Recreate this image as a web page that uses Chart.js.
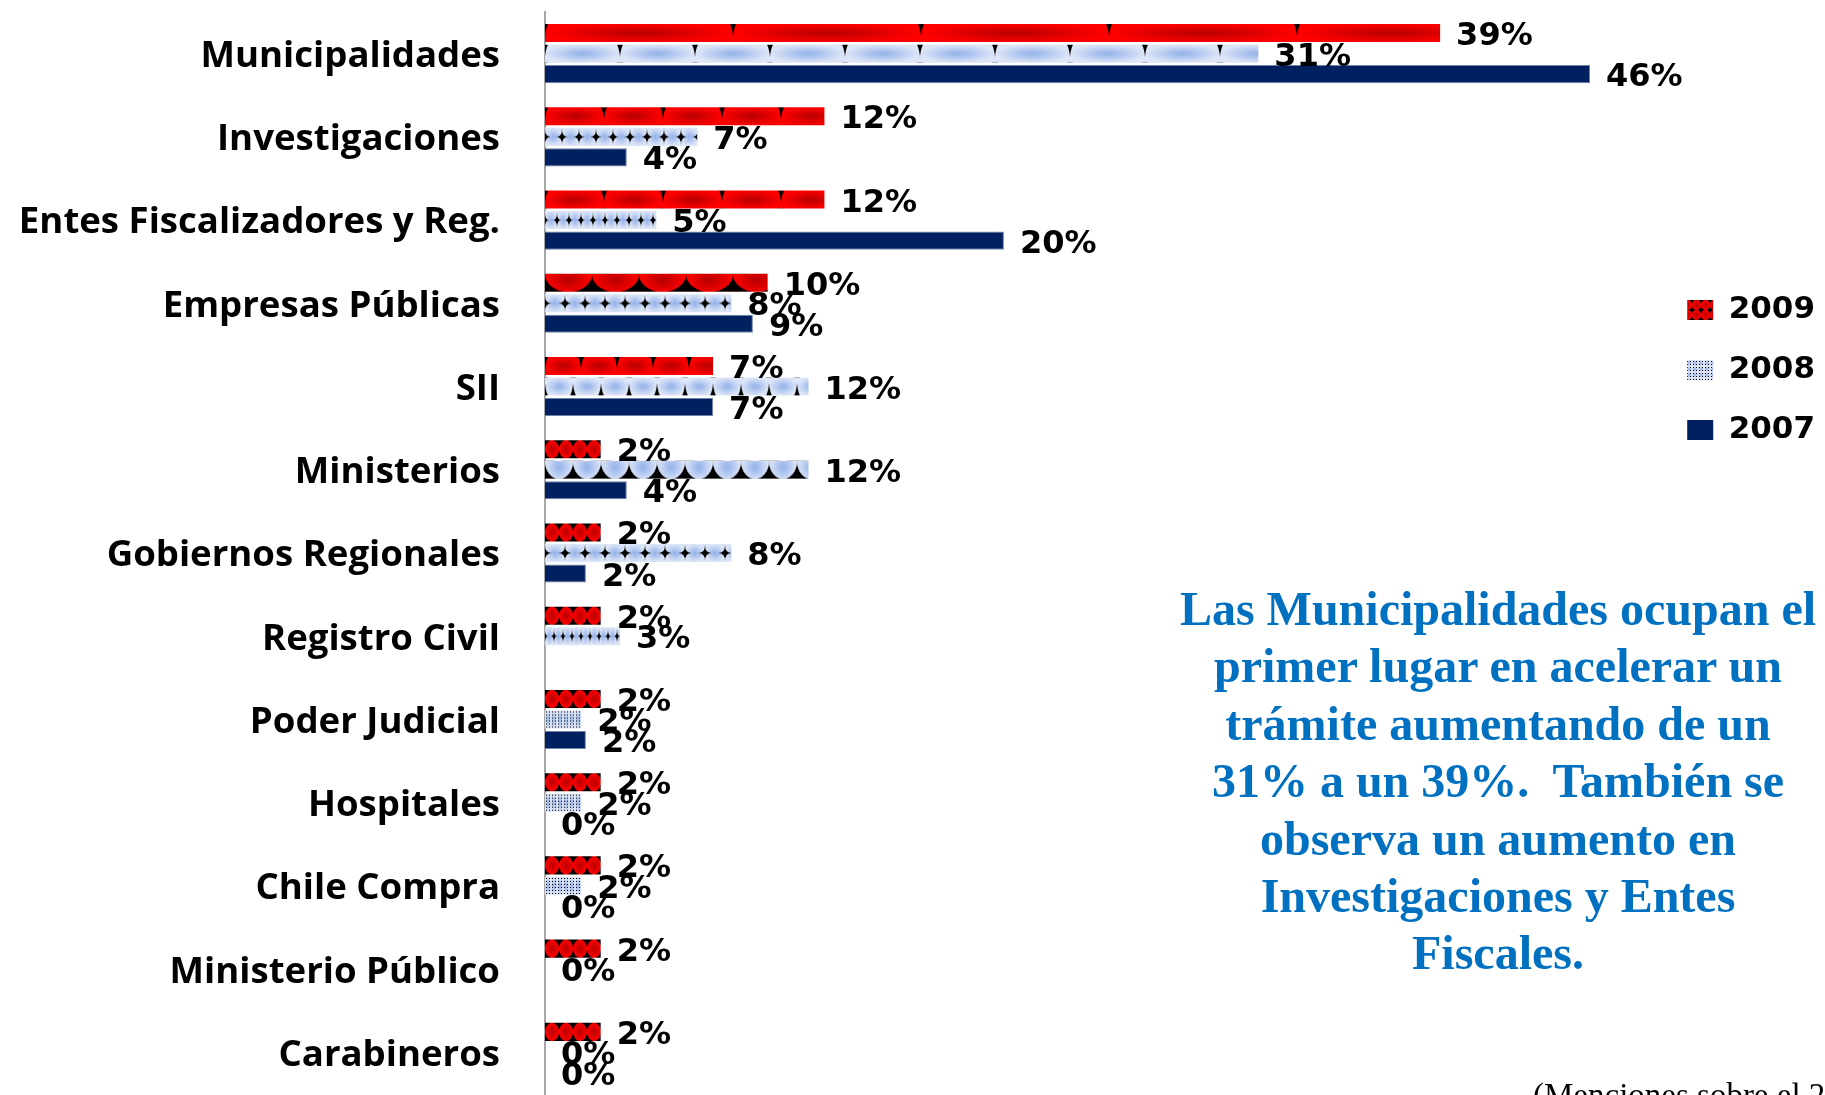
<!DOCTYPE html>
<html><head><meta charset="utf-8">
<script src="https://cdn.jsdelivr.net/npm/chart.js@4.4.1/dist/chart.umd.min.js"></script>
<style>
html,body{margin:0;padding:0;background:#fff;overflow:hidden;width:1825px;height:1095px;}
#wrap{position:absolute;left:0;top:0;width:1825px;height:1095px;}
#note{position:absolute;left:1170px;top:580px;width:656px;text-align:center;font-family:"Liberation Serif","Times New Roman",serif;font-weight:bold;font-size:48px;line-height:57.4px;color:#0070c0;white-space:nowrap;}
#foot{position:absolute;left:1533px;top:1079px;font-family:"Liberation Serif","Times New Roman",serif;font-size:33px;line-height:33px;white-space:nowrap;color:#000;}
</style></head><body>
<div id="wrap"><canvas id="c" width="1825" height="1095"></canvas></div>
<div id="note">Las Municipalidades ocupan el<br>primer lugar en acelerar un<br>trámite aumentando de un<br>31% a un 39%.&nbsp; También se<br>observa un aumento en<br>Investigaciones y Entes<br>Fiscales.</div>
<div id="foot">(Menciones sobre el 2%)</div>
<script>
// ---- data ----
const categories = ['Municipalidades','Investigaciones','Entes Fiscalizadores y Reg.','Empresas Públicas','SII','Ministerios','Gobiernos Regionales','Registro Civil','Poder Judicial','Hospitales','Chile Compra','Ministerio Público','Carabineros'];
const seriesNames = ['2009','2008','2007'];
const values2009 = [39.4, 12.3, 12.3, 9.8, 7.4, 2.45, 2.45, 2.45, 2.45, 2.45, 2.45, 2.45, 2.45];
const values2008 = [31.4, 6.7, 4.9, 8.2, 11.6, 11.6, 8.2, 3.3, 1.6, 1.6, 1.6, 0, 0];
const values2007 = [46.0, 3.6, 20.2, 9.15, 7.4, 3.6, 1.8, null, 1.8, 0, 0, null, 0];

// ---- styles (fill patterns per bar) ----
const style2009 = [['spike',188],['spike',59],['spike',59],['scallop',47],['spike',36],['circles',14],['circles',14],['circles',14],['circles',14],['circles',14],['circles',14],['circles',14],['circles',14]];
const style2008 = [['spike',75],['star',16.5],['star',11.5],['star',20],['cusp',27.5],['scallop',28],['star',20],['star',9],['dots',6],['dots',6],['dots',6],['dots',6],['dots',6]];
const RED = ['#ff0000','#b80000'];
const BLUE = ['#dde6f7','#93b1ea'];
const NAVY = '#002060';

const CAT_PCT = 0.74, BAR_PCT = 0.88;
const tileCache = {};

function blob(g, cx, cy, rx, ry, base, dark) {
  g.save(); g.translate(cx, cy); g.scale(rx, ry);
  const rg = g.createRadialGradient(0,0,0,0,0,1);
  rg.addColorStop(0, dark); rg.addColorStop(1, base);
  g.fillStyle = rg; g.beginPath(); g.arc(0,0,1,0,Math.PI*2); g.fill(); g.restore();
}
function spikePath(g, cx, y0, w, len, dir) {
  g.beginPath();
  g.moveTo(cx - w/2, y0);
  g.quadraticCurveTo(cx - 0.6, y0 + dir*len*0.35, cx, y0 + dir*len);
  g.quadraticCurveTo(cx + 0.6, y0 + dir*len*0.35, cx + w/2, y0);
  g.closePath(); g.fill();
}
function starPath(g, cx, cy, rx, ry) {
  g.beginPath();
  g.moveTo(cx, cy - ry);
  g.quadraticCurveTo(cx, cy, cx + rx, cy);
  g.quadraticCurveTo(cx, cy, cx, cy + ry);
  g.quadraticCurveTo(cx, cy, cx - rx, cy);
  g.quadraticCurveTo(cx, cy, cx, cy - ry);
  g.closePath(); g.fill();
}
function makeTile(kind, period, h, colors) {
  const p = Math.max(3, Math.round(period)), hh = Math.max(3, Math.round(h));
  const key = kind + p + '_' + hh + colors[0];
  if (tileCache[key]) return tileCache[key];
  const c = document.createElement('canvas'); c.width = p; c.height = hh;
  const g = c.getContext('2d');
  const [base, dark] = colors;
  if (kind === 'circles') {
    g.fillStyle = '#000'; g.fillRect(0,0,p,hh);
    g.save(); g.beginPath(); g.ellipse(p/2, hh/2, p/2, hh/2, 0, 0, Math.PI*2); g.clip();
    g.fillStyle = base; g.fillRect(0,0,p,hh); blob(g, p/2, hh/2, p/2, hh/2, base, dark); g.restore();
  } else if (kind === 'scallop') {
    g.fillStyle = '#000'; g.fillRect(0,0,p,hh);
    g.save(); g.beginPath(); g.ellipse(p/2, 0, p/2, hh, 0, 0, Math.PI*2); g.clip();
    g.fillStyle = base; g.fillRect(0,0,p,hh); blob(g, p/2, hh*0.35, p/2, hh*0.8, base, dark); g.restore();
  } else {
    g.fillStyle = base; g.fillRect(0,0,p,hh);
    blob(g, p/2, hh/2, p/2, hh/2, base, dark);
    g.fillStyle = '#000';
    if (kind === 'spike') { spikePath(g, 0, 0, 6, hh*0.7, 1); spikePath(g, p, 0, 6, hh*0.7, 1); }
    else if (kind === 'cusp') { spikePath(g, 0, hh, 6, hh*0.7, -1); spikePath(g, p, hh, 6, hh*0.7, -1); }
    else if (kind === 'star') { const rx = Math.min(p*0.34, hh*0.4), ry = hh*0.45; starPath(g, 0, hh/2, rx, ry); starPath(g, p, hh/2, rx, ry); }
    else if (kind === 'dots') { for (let y = 1; y < hh; y += 3) for (let x = 1; x < p; x += 3) g.fillRect(x, y, 1, 1); }
  }
  tileCache[key] = c;
  return c;
}

function barFill(dsIndex, styles, colors) {
  return (ctx) => {
    if (ctx.type !== 'data') return colors[0];
    const chart = ctx.chart, ys = chart.scales.y, ca = chart.chartArea;
    if (!ys || !ca) return colors[0];
    const i = ctx.dataIndex;
    const cat = Math.abs(ys.getPixelForValue(1) - ys.getPixelForValue(0));
    const group = cat * CAT_PCT, slot = group / 3, th = slot * BAR_PCT;
    const top = ys.getPixelForValue(i) - group/2 + dsIndex*slot + (slot - th)/2;
    const [kind, period] = styles[i];
    const tile = makeTile(kind, period, th, colors);
    const pat = chart.ctx.createPattern(tile, 'repeat');
    pat.setTransform(new DOMMatrix([1,0,0,th/tile.height,ca.left,top]));
    return pat;
  };
}

const legendFills = (c2d) => [
  c2d.createPattern(makeTile('circles', 9, 10, RED), 'repeat'),
  c2d.createPattern(makeTile('dots', 6, 6, BLUE), 'repeat'),
  NAVY
];

const valueLabels = {
  id: 'valueLabels',
  afterDatasetsDraw(chart) {
    const ctx = chart.ctx; ctx.save();
    ctx.font = 'bold 32px "DejaVu Sans"'; ctx.fillStyle = '#000';
    ctx.textAlign = 'left'; ctx.textBaseline = 'alphabetic';
    chart.data.datasets.forEach((ds, di) => {
      const meta = chart.getDatasetMeta(di);
      meta.data.forEach((el, i) => {
        const v = ds.data[i];
        if (v === null || v === undefined) return;
        ctx.fillText(Math.round(v) + '%', el.x + 16, el.y + 12);
      });
    });
    ctx.restore();
  }
};

const cv = document.getElementById('c');
new Chart(cv, {
  type: 'bar',
  data: {
    labels: categories,
    datasets: [
      {label: seriesNames[0], data: values2009, backgroundColor: barFill(0, style2009, RED), borderWidth: 0},
      {label: seriesNames[1], data: values2008, backgroundColor: barFill(1, style2008, BLUE), borderWidth: 0},
      {label: seriesNames[2], data: values2007, backgroundColor: NAVY, borderColor: '#6f82a6', borderWidth: 1}
    ]
  },
  options: {
    indexAxis: 'y',
    responsive: false,
    animation: false,
    devicePixelRatio: 1,
    categoryPercentage: CAT_PCT,
    barPercentage: BAR_PCT,
    layout: {padding: {top: 12, bottom: 1, left: 0, right: 0}},
    scales: {
      x: {type: 'linear', display: false, min: 0, max: 49, grid: {display: false}},
      y: {
        grid: {display: false, drawTicks: false},
        border: {display: true, color: '#a6a6a6', width: 2},
        ticks: {font: {family: 'Open Sans', size: 36.6, weight: 'bold'}, color: '#000', padding: 45, autoSkip: false, labelOffset: 3},
        afterFit: (s) => { s.width = 545; s.paddingTop = 0; s.paddingBottom = 0; }
      }
    },
    plugins: {
      tooltip: {enabled: false},
      legend: {
        position: 'right',
        align: 'start',
        title: {display: true, text: '', padding: {top: 239, bottom: 0}},
        labels: {
          boxWidth: 26, boxHeight: 20, padding: 29, color: '#000',
          font: {family: 'DejaVu Sans', size: 31, weight: 'bold'},
          generateLabels: (chart) => {
            const fills = legendFills(chart.ctx);
            return chart.data.datasets.map((ds, i) => ({
              text: ds.label, fillStyle: fills[i], strokeStyle: 'rgba(0,0,0,0)', lineWidth: 0,
              hidden: false, datasetIndex: i, fontColor: '#000'
            }));
          }
        }
      }
    }
  },
  plugins: [valueLabels]
});
</script>
</body></html>
